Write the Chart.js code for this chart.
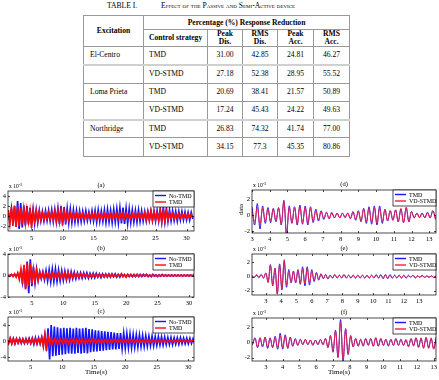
<!DOCTYPE html>
<html>
<head>
<meta charset="utf-8">
<script src="https://cdn.jsdelivr.net/npm/chart.js@4.4.1/dist/chart.umd.min.js"></script>
<style>
body { margin: 0; background: #fff; width: 439px; height: 380px; position: relative; overflow: hidden; font-family: "Liberation Serif", serif; color: #000; }
.cap { position: absolute; top: 1px; font-size: 7.6px; white-space: nowrap; }
.sc { font-variant: small-caps; }
table { position: absolute; left: 83px; top: 15px; width: 266px; border-collapse: collapse; table-layout: fixed; font-size: 7.6px; line-height: 1.05; }
td, th { border: 1px solid #999; padding: 0; text-align: center; vertical-align: middle; }
th { font-weight: bold; }
tr.h1 { height: 14px; }
tr.h2 { height: 17px; }
tr.r { height: 18.3px; }
tr.sep td { border-top: 2px solid #d0d0d0; }
td.l { text-align: left; padding-left: 6px; }
td.s, th.s { text-align: left; padding-left: 5px; }
canvas { position: absolute; }
</style>
</head>
<body>
<div class="cap" style="left:107px">TABLE I.</div>
<div class="cap sc" style="left:161px">Effect of the Passive and Semi-Active device</div>
<table>
  <colgroup><col style="width:60px"><col style="width:64px"><col style="width:35px"><col style="width:35px"><col style="width:36px"><col style="width:36px"></colgroup>
  <tr class="h1"><th rowspan="2">Excitation</th><th colspan="5">Percentage (%) Response Reduction</th></tr>
  <tr class="h2"><th class="s">Control strategy</th><th>Peak<br>Dis.</th><th>RMS<br>Dis.</th><th>Peak<br>Acc.</th><th>RMS<br>Acc.</th></tr>
  <tr class="r"><td class="l">El-Centro</td><td class="s">TMD</td><td>31.00</td><td>42.85</td><td>24.81</td><td>46.27</td></tr>
  <tr class="r sep"><td></td><td class="s">VD-STMD</td><td>27.18</td><td>52.38</td><td>28.95</td><td>55.52</td></tr>
  <tr class="r"><td class="l">Loma Prieta</td><td class="s">TMD</td><td>20.69</td><td>38.41</td><td>21.57</td><td>50.89</td></tr>
  <tr class="r"><td></td><td class="s">VD-STMD</td><td>17.24</td><td>45.43</td><td>24.22</td><td>49.63</td></tr>
  <tr class="r sep"><td class="l">Northridge</td><td class="s">TMD</td><td>26.83</td><td>74.32</td><td>41.74</td><td>77.00</td></tr>
  <tr class="r"><td></td><td class="s">VD-STMD</td><td>34.15</td><td>77.3</td><td>45.35</td><td>80.86</td></tr>
</table>

<canvas id="ca" width="200" height="67" style="left:0;top:177px"></canvas>
<canvas id="cb" width="200" height="64" style="left:0;top:244px"></canvas>
<canvas id="cc" width="200" height="72" style="left:0;top:308px"></canvas>
<canvas id="cd" width="219" height="67" style="left:220px;top:177px"></canvas>
<canvas id="ce" width="219" height="64" style="left:220px;top:244px"></canvas>
<canvas id="cf" width="219" height="72" style="left:220px;top:308px"></canvas>

<script>
// sampling of the records (first sample, spacing in s)
const leftT0 = 1.25, leftDt = 0.25;
const rightDt = 0.15;
const dT0 = 3.0, eT0 = 2.1, fT0 = 2.2;

// tick labels
const leftTicksX = [5, 10, 15, 20, 25, 30];
const rightTicksX = [3, 4, 5, 6, 7, 8, 9, 10, 11, 12, 13];
const ticksYA = [-2, 0, 2, 4];
const ticksYB = [-4, -2, 0, 2, 4];
const ticksYC = [-4, -2, 0, 2, 4, 6];
const ticksYRight = [-2, 0, 2];

// (a) El-Centro, x1e-3
const noTmdA = [0.8,-1.2,1.5,-1.4,2.0,-2.2,3.0,-2.6,
  2.6,-2.3,2.1,-1.9,2.0,-1.7,1.6,-1.5,
  1.4,-1.5,1.2,-1.3,1.1,-1.0,0.9,-1.0,
  1.0,-0.9,1.1,-1.0,1.2,-1.1,1.3,-1.2,
  1.5,-1.6,2.0,-1.9,1.8,-1.7,1.5,-1.4,
  1.4,-1.3,1.2,-1.2,1.1,-1.2,1.0,-1.1,
  0.9,-1.0,1.0,-0.9,0.8,-0.9,1.0,-1.0,
  1.1,-1.2,1.2,-1.1,1.0,-1.1,1.2,-1.3,
  1.3,-1.2,1.1,-1.3,1.3,-1.2,1.4,-1.4,
  1.6,-1.5,1.7,-1.6,1.5,-1.5,1.4,-1.3,
  1.2,-1.2,1.1,-1.2,1.2,-1.1,1.0,-1.0,
  0.9,-1.0,0.9,-0.8,1.0,-0.9,1.0,-1.0,
  1.1,-1.0,1.4,-1.2,1.8,-1.2,1.6,-1.1,
  1.2,-1.0,1.0,-0.9,0.9,-1.0,0.9,-0.8,
  0.9,-0.8,0.8,-0.8,0.7,-0.8,0.7,-0.6];
const tmdA = [1.2,-1.5,1.8,-2.0,2.1,-2.2,1.9,-2.0,
  1.6,-1.7,1.4,-1.5,1.3,-1.2,1.1,-2.4,
  1.0,-0.9,1.0,-1.0,0.9,-0.8,0.7,-0.7,
  0.6,-0.6,0.7,-0.6,0.7,-0.8,0.9,-1.0,
  1.1,-1.2,1.2,-1.1,1.0,-0.9,0.8,-0.7,
  0.6,-0.6,0.5,-0.6,0.5,-0.5,0.6,-0.5,
  0.5,-0.5,0.4,-0.5,0.5,-0.4,0.5,-0.5,
  0.6,-0.5,0.5,-0.5,0.4,-0.5,0.5,-0.4,
  0.5,-0.5,0.4,-0.5,0.5,-0.4,0.5,-0.5,
  0.5,-0.6,0.6,-0.5,0.5,-0.5,0.4,-0.5,
  0.5,-0.4,0.5,-0.5,0.4,-0.4,0.5,-0.5,
  0.6,-0.7,0.8,-0.9,1.0,-0.9,0.8,-0.7,
  0.7,-0.8,1.0,-1.1,1.1,-1.0,0.9,-0.7,
  0.6,-0.5,0.5,-0.5,0.4,-0.5,0.5,-0.4,
  0.4,-0.4,0.4,-0.4,0.4,-0.3,0.4,-0.3];

// (b) Loma Prieta, x1e-3
const noTmdB = [0.1,-0.1,0.2,-0.1,0.2,-0.2,0.3,-0.4,
  0.8,-1.2,1.8,-2.4,2.6,-3.3,3.0,-2.0,
  1.6,-1.4,1.2,-0.9,0.7,-0.6,0.7,-0.8,
  0.9,-1.0,1.1,-1.2,1.2,-1.1,1.2,-1.1,
  1.0,-1.0,0.9,-0.9,0.8,-0.8,0.7,-0.8,
  0.7,-0.6,0.6,-0.6,0.5,-0.5,0.5,-0.5,
  0.5,-0.4,0.5,-0.5,0.4,-0.4,0.4,-0.4,
  0.4,-0.3,0.3,-0.4,0.3,-0.3,0.3,-0.3,
  0.3,-0.3,0.3,-0.2,0.3,-0.3,0.2,-0.3,
  0.3,-0.2,0.2,-0.3,0.2,-0.2,0.2,-0.2,
  0.2,-0.2,0.2,-0.2,0.2,-0.2,0.2,-0.1,
  0.2,-0.2,0.1,-0.2,0.2,-0.1,0.1,-0.2,
  0.1,-0.1,0.2,-0.1,0.1,-0.1,0.1,-0.1,
  0.1,-0.1,0.1,-0.1,0.1,-0.1,0.1,-0.1,
  0.1,-0.1,0.1,-0.1,0.1,-0.1,0.1,-0.1];
const tmdB = [0.1,-0.1,0.2,-0.2,0.3,-0.3,0.5,-0.7,
  1.2,-1.6,2.0,-2.6,2.4,-2.0,2.2,-1.5,
  1.2,-1.0,1.0,-0.8,0.6,-0.5,0.5,-0.5,
  0.5,-0.4,0.5,-0.5,0.4,-0.5,0.5,-0.4,
  0.5,-0.5,0.4,-0.5,0.5,-0.6,0.6,-0.5,
  0.4,-0.4,0.3,-0.3,0.3,-0.3,0.3,-0.2,
  0.3,-0.2,0.2,-0.3,0.2,-0.2,0.2,-0.2,
  0.2,-0.2,0.2,-0.2,0.2,-0.2,0.2,-0.2,
  0.2,-0.1,0.2,-0.2,0.1,-0.2,0.2,-0.1,
  0.2,-0.2,0.1,-0.2,0.2,-0.1,0.1,-0.2,
  0.1,-0.1,0.2,-0.1,0.1,-0.1,0.1,-0.1,
  0.1,-0.1,0.1,-0.1,0.1,-0.1,0.1,-0.1,
  0.1,-0.1,0.1,-0.1,0.1,-0.1,0.1,-0.1,
  0.1,-0.1,0.1,-0.1,0.1,-0.1,0.1,-0.1,
  0.1,-0.1,0.1,-0.1,0.1,-0.1,0.1,-0.1];

// (c) Northridge, x1e-3
const noTmdC = [0.3,-0.5,0.7,-0.6,0.6,-0.7,0.6,-0.5,
  0.6,-0.6,0.5,-0.6,0.6,-0.5,0.7,-0.6,
  0.7,-0.8,0.8,-0.7,0.8,-0.7,0.9,-1.0,
  1.6,-2.5,3.2,-4.6,4.0,-3.8,3.6,-3.7,
  3.4,-3.5,3.2,-3.4,3.3,-3.3,3.2,-3.1,
  3.3,-3.2,3.1,-3.2,3.3,-3.0,3.1,-3.2,
  3.2,-3.0,3.3,-3.1,3.0,-2.8,2.9,-2.7,
  2.7,-2.6,2.6,-2.5,2.5,-2.4,2.4,-2.3,
  2.3,-2.2,2.2,-2.1,2.1,-2.1,2.0,-2.0,
  2.0,-1.9,1.9,-1.8,1.8,-1.7,1.7,-1.7,
  1.6,-1.6,1.5,-1.5,1.5,-1.4,1.4,-1.4,
  1.3,-1.3,1.2,-1.2,1.2,-1.2,1.1,-1.1,
  1.1,-1.0,1.0,-1.0,1.0,-0.9,0.9,-0.9,
  0.9,-0.9,0.8,-0.8,0.8,-0.8,0.8,-0.7,
  0.7,-0.7,0.7,-0.7,0.7,-0.6,0.6,-0.6];
const tmdC = [0.4,-0.6,0.7,-0.7,0.6,-0.6,0.5,-0.5,
  0.5,-0.4,0.5,-0.5,0.4,-0.5,0.5,-0.5,
  0.6,-0.5,0.5,-0.6,0.5,-0.6,0.9,-1.4,
  1.6,-1.5,1.2,-1.0,0.7,-0.6,0.5,-0.6,
  0.5,-0.6,0.4,-0.5,0.5,-0.5,0.4,-0.6,
  0.4,-0.5,0.5,-0.5,0.4,-0.6,0.5,-0.5,
  0.4,-0.5,0.4,-0.5,0.4,-0.4,0.5,-0.4,
  0.4,-0.4,0.3,-0.4,0.3,-0.4,0.3,-0.3,
  0.3,-0.4,0.3,-0.3,0.3,-0.3,0.3,-0.3,
  0.3,-0.3,0.3,-0.3,0.3,-0.3,0.3,-0.3,
  0.3,-0.3,0.2,-0.3,0.3,-0.3,0.2,-0.3,
  0.3,-0.3,0.2,-0.3,0.2,-0.3,0.2,-0.2,
  0.2,-0.3,0.2,-0.2,0.2,-0.3,0.2,-0.2,
  0.2,-0.2,0.2,-0.3,0.2,-0.2,0.2,-0.2,
  0.2,-0.2,0.2,-0.2,0.2,-0.2,0.2,-0.2];

// (d) TMD vs VD-STMD, x1e-3
const tmdD = [1.1,-1.2,1.5,-1.7,1.2,-1.0,1.0,-0.9,0.9,-0.8,1.0,-1.2,1.9,-2.4,
  1.2,-1.0,1.1,-1.2,1.3,-1.1,1.2,-1.2,1.1,-0.9,0.8,-0.7,0.6,-0.5,0.4,-0.4,0.4,-0.3,0.3,-0.3,
  0.3,-0.2,0.3,-0.4,0.5,-0.6,0.6,-0.8,0.9,-1.0,1.1,-1.1,1.2,-1.2,1.2,-1.0,0.8,-0.7,0.6,-0.6,
  0.7,-0.8,0.8,-0.9,1.0,-0.8,0.5,-0.3,0.3,-0.2,0.3,-0.3,0.4,-0.3,0.6,-0.4];
const vdD = [0.6,-0.8,1.0,-1.1,0.9,-0.8,0.8,-0.7,0.8,-0.7,0.9,-1.1,1.8,-2.5,
  1.0,-0.9,1.0,-1.0,1.1,-0.9,1.0,-1.0,0.9,-0.7,0.6,-0.6,0.5,-0.4,0.4,-0.4,0.3,-0.3,0.3,-0.3,
  0.3,-0.3,0.3,-0.4,0.4,-0.5,0.5,-0.7,0.8,-0.8,0.9,-0.9,1.0,-1.0,0.9,-0.8,0.7,-0.6,0.6,-0.6,
  0.7,-0.8,0.9,-0.9,1.0,-0.8,0.5,-0.3,0.3,-0.3,0.3,-0.3,0.4,-0.3,0.6,-0.5];

// (e)
const tmdE = [0.1,-0.1,0.2,-0.1,0.3,-0.2,0.5,-0.8,
  1.7,-1.3,1.2,-2.4,1.8,-1.9,2.2,-1.5,1.0,-0.9,0.8,-0.9,1.0,-1.1,1.4,-1.3,1.4,-1.2,1.0,-0.7,
  0.6,-0.5,0.4,-0.3,0.3,-0.3,0.2,-0.2,0.3,-0.2,0.2,-0.2,0.3,-0.2,0.2,-0.2,0.2,-0.2,0.2,-0.2,
  0.2,-0.2,0.2,-0.2,0.2,-0.2,0.3,-0.2,0.3,-0.3,0.3,-0.3,0.3,-0.2,0.2,-0.2,0.2,-0.2,0.2,-0.2,
  0.2,-0.1,0.2,-0.2,0.1,-0.1,0.2,-0.1,0.1,-0.1,0.1,-0.1,0.1];
const vdE = [0.1,-0.1,0.3,-0.2,0.3,-0.2,0.5,-0.8,
  1.6,-1.2,1.1,-2.5,1.7,-1.7,2.4,-1.3,0.8,-0.8,0.7,-0.8,0.9,-1.0,1.1,-1.0,1.2,-0.9,0.8,-0.6,
  0.5,-0.4,0.4,-0.3,0.3,-0.3,0.2,-0.2,0.3,-0.2,0.2,-0.2,0.3,-0.2,0.2,-0.2,0.2,-0.2,0.2,-0.2,
  0.2,-0.2,0.2,-0.2,0.2,-0.2,0.2,-0.2,0.2,-0.2,0.2,-0.2,0.2,-0.2,0.2,-0.2,0.2,-0.2,0.2,-0.2,
  0.1,-0.1,0.2,-0.1,0.1,-0.1,0.1,-0.1,0.1,-0.1,0.1,-0.1,0.1];

// (f)
const tmdF = [-0.3,0.6,-0.7,0.6,-0.6,0.7,-0.8,0.6,-0.7,0.8,
  -0.9,1.2,-0.9,1.0,-0.8,0.7,-0.5,0.5,-0.4,0.4,
  -0.3,0.4,-0.3,0.3,-0.4,0.3,-0.3,0.4,-0.3,0.5,
  -0.7,0.9,-1.3,1.6,-2.0,3.0,-2.6,1.8,-1.6,0.9,
  -0.6,0.5,-0.5,0.4,-0.5,0.5,-0.4,0.5,-0.5,0.6,
  -0.5,0.5,-0.4,0.4,-0.5,0.4,-0.4,0.5,-0.4,0.4,
  -0.4,0.3,-0.5,0.5,-0.4,0.6,-0.6,0.5,-0.7,0.6,-0.7,0.5,-0.8,0.6];
const vdF = [-0.3,0.5,-0.6,0.6,-0.5,0.6,-0.6,0.5,-0.6,0.6,
  -0.7,0.9,-0.7,0.8,-0.7,0.6,-0.5,0.4,-0.4,0.4,
  -0.3,0.4,-0.3,0.3,-0.3,0.3,-0.3,0.4,-0.3,0.5,
  -0.6,0.8,-1.1,1.5,-1.9,2.7,-2.3,1.7,-1.5,0.8,
  -0.6,0.5,-0.5,0.4,-0.4,0.5,-0.4,0.5,-0.5,0.6,
  -0.5,0.5,-0.4,0.4,-0.4,0.4,-0.4,0.5,-0.4,0.4,
  -0.4,0.4,-0.6,0.5,-0.5,0.6,-0.7,0.6,-0.8,0.7,-0.8,0.6,-0.9,0.7];

const BLUE = 'rgb(20,20,255)';
const RED = 'rgb(255,10,10)';
const PINK = 'rgb(240,30,70)';
const FONT = '"Liberation Serif", "Times New Roman", serif';

function series(t0, dt, values) {
  return values.map((v, i) => ({ x: t0 + i * dt, y: v }));
}

// frame, inward ticks, legend, panel letter, exponent and axis labels
const decor = {
  id: 'decor',
  afterDatasetsDraw(chart, args, o) {
    const ctx = chart.ctx;
    const a = chart.chartArea;
    const xs = chart.scales.x, ys = chart.scales.y;
    ctx.save();
    ctx.strokeStyle = '#000';
    ctx.lineWidth = 0.7;
    ctx.strokeRect(a.left, a.top, a.right - a.left, a.bottom - a.top);
    ctx.beginPath();
    xs.ticks.forEach(t => {
      const p = Math.round(xs.getPixelForValue(t.value)) + 0.5;
      ctx.moveTo(p, a.bottom); ctx.lineTo(p, a.bottom - 2);
      ctx.moveTo(p, a.top); ctx.lineTo(p, a.top + 2);
    });
    ys.ticks.forEach(t => {
      const p = Math.round(ys.getPixelForValue(t.value)) + 0.5;
      ctx.moveTo(a.left, p); ctx.lineTo(a.left + 2, p);
      ctx.moveTo(a.right, p); ctx.lineTo(a.right - 2, p);
    });
    ctx.stroke();

    // legend box
    const lw = o.legW, lh = 16;
    const lx = a.right - lw, ly = a.top;
    ctx.fillStyle = '#fff';
    ctx.fillRect(lx, ly, lw, lh);
    ctx.strokeStyle = '#000';
    ctx.lineWidth = 0.7;
    ctx.strokeRect(lx, ly, lw, lh);
    ctx.font = '6px ' + FONT;
    ctx.textAlign = 'left';
    ctx.textBaseline = 'middle';
    chart.data.datasets.forEach((ds, i) => {
      const yy = ly + 4.5 + i * 6.5;
      ctx.strokeStyle = ds.borderColor;
      ctx.lineWidth = 1.4;
      ctx.beginPath();
      ctx.moveTo(lx + 2, yy); ctx.lineTo(lx + 13, yy);
      ctx.stroke();
      ctx.fillStyle = '#000';
      ctx.fillText(ds.label, lx + 16, yy + 0.5);
    });

    ctx.fillStyle = '#000';
    ctx.font = '6.5px ' + FONT;
    ctx.textAlign = 'center';
    ctx.fillText(o.panel, (a.left + a.right) / 2, a.top - 6);

    // exponent of the y axis
    ctx.textAlign = 'left';
    ctx.font = '5.5px ' + FONT;
    ctx.fillText('x 10', a.left + 1, a.top - 4);
    ctx.font = '4px ' + FONT;
    ctx.fillText('-3', a.left + 11, a.top - 6.5);

    if (o.xTitle) {
      ctx.font = '7px ' + FONT;
      ctx.textAlign = 'center';
      ctx.fillText(o.xTitle, (a.left + a.right) / 2 - 5, a.bottom + 11);
    }
    if (o.yTitle) {
      ctx.font = '6.5px ' + FONT;
      ctx.translate(a.left - 11, (a.top + a.bottom) / 2 - 2);
      ctx.rotate(-Math.PI / 2);
      ctx.textAlign = 'center';
      ctx.fillText(o.yTitle, 0, 0);
    }
    ctx.restore();
  }
};

function makeChart(id, cfg) {
  const n = cfg.sets.length;
  return new Chart(document.getElementById(id), {
    type: 'line',
    data: {
      datasets: cfg.sets.map((s, i) => ({
        label: s.label,
        data: s.data,
        borderColor: s.color,
        borderWidth: cfg.lineW,
        pointRadius: 0,
        tension: cfg.tension,
        fill: false,
        order: n - i   // later series drawn on top, as in the original plot
      }))
    },
    options: {
      responsive: false,
      animation: false,
      devicePixelRatio: 1,
      layout: { padding: { top: cfg.padTop, right: cfg.padRight, left: 0, bottom: 0 } },
      plugins: {
        legend: { display: false },
        tooltip: { enabled: false },
        decor: { legW: cfg.legW, panel: cfg.panel, xTitle: cfg.xTitle, yTitle: cfg.yTitle }
      },
      scales: {
        x: {
          type: 'linear',
          min: cfg.xMin, max: cfg.xMax,
          grid: { display: false, drawTicks: false },
          border: { display: false },
          afterBuildTicks: s => { s.ticks = cfg.xTicks.map(v => ({ value: v })); },
          afterFit: s => { s.height = cfg.xAxisH; },
          ticks: { padding: cfg.xPad, maxRotation: 0, autoSkip: false, color: '#000', font: { family: FONT, size: 6.5 } }
        },
        y: {
          min: cfg.yMin, max: cfg.yMax,
          grid: { display: false, drawTicks: false },
          border: { display: false },
          afterBuildTicks: s => { s.ticks = cfg.yTicks.map(v => ({ value: v })); },
          afterFit: s => { s.width = cfg.yAxisW; },
          ticks: { padding: 2, color: '#000', font: { family: FONT, size: 6.5 } }
        }
      }
    },
    plugins: [decor]
  });
}

const leftBase = { lineW: 1.7, tension: 0, legW: 41, padRight: 6, yAxisW: 8, xTicks: leftTicksX };
const rightBase = { lineW: 1, tension: 0.35, legW: 43, padRight: 3, yAxisW: 32, xTicks: rightTicksX, yTicks: ticksYRight };

makeChart('ca', Object.assign({}, leftBase, {
  panel: '(a)', padTop: 14, xAxisH: 13, xPad: 3, xMin: 1.2, xMax: 31.2, yMin: -3, yMax: 5, yTicks: ticksYA,
  sets: [{ label: 'No-TMD', color: BLUE, data: series(leftT0, leftDt, noTmdA) },
         { label: 'TMD', color: RED, data: series(leftT0, leftDt, tmdA) }]
}));
makeChart('cb', Object.assign({}, leftBase, {
  panel: '(b)', padTop: 10, xAxisH: 11, xPad: 2, xMin: 1.2, xMax: 30.8, yMin: -4, yMax: 4, yTicks: ticksYB,
  sets: [{ label: 'No-TMD', color: BLUE, data: series(leftT0, leftDt, noTmdB) },
         { label: 'TMD', color: RED, data: series(leftT0, leftDt, tmdB) }]
}));
makeChart('cc', Object.assign({}, leftBase, {
  panel: '(c)', padTop: 9, xAxisH: 19, xPad: 2, xMin: 1.4, xMax: 30.9, yMin: -5, yMax: 6, yTicks: ticksYC, xTitle: 'Time(s)',
  sets: [{ label: 'No-TMD', color: BLUE, data: series(leftT0, leftDt, noTmdC) },
         { label: 'TMD', color: RED, data: series(leftT0, leftDt, tmdC) }]
}));
makeChart('cd', Object.assign({}, rightBase, {
  panel: '(d)', padTop: 13, xAxisH: 11, xPad: 2.5, xMin: 3.0, xMax: 13.38, yMin: -2.2, yMax: 3.2, yTitle: 'data',
  sets: [{ label: 'TMD', color: BLUE, data: series(dT0, rightDt, tmdD) },
         { label: 'VD-STMD', color: PINK, data: series(dT0, rightDt, vdD) }]
}));
makeChart('ce', Object.assign({}, rightBase, {
  panel: '(e)', padTop: 10, xAxisH: 13, xPad: 2, xMin: 2.1, xMax: 14.1, yMin: -2.6, yMax: 3.2,
  sets: [{ label: 'TMD', color: BLUE, data: series(eT0, rightDt, tmdE) },
         { label: 'VD-STMD', color: PINK, data: series(eT0, rightDt, vdE) }]
}));
makeChart('cf', Object.assign({}, rightBase, {
  panel: '(f)', padTop: 10, xAxisH: 19, xPad: 2, xMin: 2.17, xMax: 13.14, yMin: -2.45, yMax: 3.2, xTitle: 'Time(s)',
  sets: [{ label: 'TMD', color: BLUE, data: series(fT0, rightDt, tmdF) },
         { label: 'VD-STMD', color: PINK, data: series(fT0, rightDt, vdF) }]
}));
</script>
</body>
</html>
